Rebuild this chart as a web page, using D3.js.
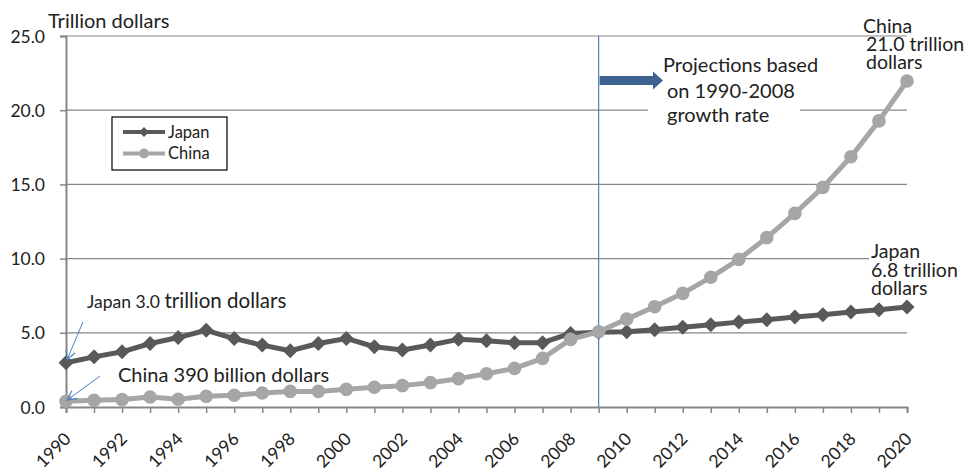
<!DOCTYPE html>
<html lang="en">
<head>
<meta charset="UTF-8">
<title>Japan and China GDP</title>
<style>
  body { margin: 0; background: #fff; }
  svg text { font-family: Lato, "Open Sans", sans-serif; fill: #222; }
</style>
</head>
<body>
<div id="chart"></div>
<script src="https://d3js.org/d3.v7.min.js"></script>
<script>
// data (trillion dollars)
var years = [1990, 1991, 1992, 1993, 1994, 1995, 1996, 1997, 1998, 1999,
             2000, 2001, 2002, 2003, 2004, 2005, 2006, 2007, 2008, 2009,
             2010, 2011, 2012, 2013, 2014, 2015, 2016, 2017, 2018, 2019, 2020];
var japan = [2.98, 3.38, 3.72, 4.28, 4.68, 5.17, 4.61, 4.17, 3.79, 4.28,
             4.62, 4.06, 3.84, 4.18, 4.56, 4.47, 4.33, 4.33, 4.96, 5.03,
             5.07, 5.20, 5.38, 5.54, 5.72, 5.88, 6.06, 6.22, 6.40, 6.56, 6.74];
var china = [0.39, 0.45, 0.50, 0.67, 0.52, 0.72, 0.79, 0.94, 1.05, 1.05,
             1.19, 1.33, 1.44, 1.64, 1.91, 2.24, 2.60, 3.28, 4.56, 5.07,
             5.92, 6.76, 7.66, 8.74, 9.95, 11.41, 13.05, 14.80, 16.86, 19.28, 21.97];
var yTicks = [0, 5, 10, 15, 20, 25];
var xLabelYears = [1990, 1992, 1994, 1996, 1998, 2000, 2002, 2004, 2006, 2008,
                   2010, 2012, 2014, 2016, 2018, 2020];
var projectionStart = 2009;

var width = 968, height = 471;
var gridColor = "#868686", japanColor = "#595959", chinaColor = "#a6a6a6", blue = "#4f81bd";

var svg = d3.select("#chart").append("svg")
    .attr("width", width)
    .attr("height", height);

var x = d3.scaleLinear().domain([1990, 2020]).range([66, 907]);
var y = d3.scaleLinear().domain([0, 25]).range([407, 36]);

var defs = svg.append("defs");
defs.append("marker")
    .attr("id", "open-arrow")
    .attr("viewBox", "0 0 10 10")
    .attr("refX", 9).attr("refY", 5)
    .attr("markerWidth", 12).attr("markerHeight", 12)
    .attr("markerUnits", "userSpaceOnUse")
    .attr("orient", "auto")
  .append("path")
    .attr("d", "M1,1 L9,5 L1,9")
    .attr("fill", "none")
    .attr("stroke", blue)
    .attr("stroke-width", 1);

// gridlines
svg.append("g").selectAll("line")
    .data(yTicks.filter(function(d) { return d > 0; }))
    .enter().append("line")
    .attr("x1", x(1990)).attr("x2", x(2020))
    .attr("y1", function(d) { return y(d); })
    .attr("y2", function(d) { return y(d); })
    .attr("stroke", gridColor).attr("stroke-width", 1.2);

// y axis
var yAxis = svg.append("g")
    .attr("transform", "translate(" + x(1990) + ",0)")
    .call(d3.axisLeft(y).tickValues(yTicks).tickSize(6).tickFormat(d3.format(".1f")));
yAxis.select(".domain").attr("stroke", gridColor).attr("stroke-width", 2);
yAxis.selectAll(".tick line").attr("stroke", gridColor).attr("stroke-width", 1.5);
yAxis.selectAll(".tick text")
    .attr("x", -21).attr("dy", "0.35em")
    .style("font-family", "Lato, sans-serif").style("font-size", "17.5px").attr("fill", "#222");

// x axis
var xAxis = svg.append("g")
    .attr("transform", "translate(0," + y(0) + ")")
    .call(d3.axisBottom(x).tickValues(years).tickSize(6).tickFormat(""));
xAxis.select(".domain").attr("stroke", gridColor).attr("stroke-width", 2);
xAxis.selectAll(".tick line").attr("stroke", gridColor).attr("stroke-width", 1.5);

svg.append("g").selectAll("text")
    .data(xLabelYears)
    .enter().append("text")
    .attr("transform", function(d) { return "translate(" + (x(d) + 6) + ",440) rotate(-45)"; })
    .attr("text-anchor", "end")
    .style("font-size", "17.5px")
    .text(function(d) { return d; });

// axis title
svg.append("text")
    .attr("x", 48).attr("y", 28)
    .style("font-size", "20px")
    .text("Trillion dollars");

// projection marker line
svg.append("line")
    .attr("x1", x(projectionStart)).attr("x2", x(projectionStart))
    .attr("y1", y(25)).attr("y2", y(0))
    .attr("stroke", blue).attr("stroke-width", 1.2);

// series
function drawSeries(values, color, symbolFn) {
  var pts = years.map(function(yr, i) { return [yr, values[i]]; });
  svg.append("path")
      .datum(pts)
      .attr("fill", "none")
      .attr("stroke", color)
      .attr("stroke-width", 5)
      .attr("stroke-linejoin", "round")
      .attr("d", d3.line().x(function(d) { return x(d[0]); }).y(function(d) { return y(d[1]); }));
  svg.append("g").selectAll("path")
      .data(pts)
      .enter().append("path")
      .attr("transform", function(d) { return "translate(" + x(d[0]) + "," + y(d[1]) + ")"; })
      .attr("d", symbolFn)
      .attr("fill", color);
}
drawSeries(japan, japanColor, function() { return "M0,-7.5L7.5,0L0,7.5L-7.5,0Z"; });
drawSeries(china, chinaColor, d3.symbol().type(d3.symbolCircle).size(Math.PI * 6.8 * 6.8));

// projection annotation
svg.append("rect")
    .attr("x", 648).attr("y", 52).attr("width", 152).attr("height", 76)
    .attr("fill", "#fff");
svg.append("path")
    .attr("d", "M" + (x(projectionStart) + 1) + ",76 L653,76 L653,71.5 L663,80.5 L653,89.5 L653,85 L" + (x(projectionStart) + 1) + ",85 Z")
    .attr("fill", "#3f6390");
var proj = svg.append("text").style("font-size", "20px");
proj.append("tspan").attr("x", 663).attr("y", 72).text("Projections based");
proj.append("tspan").attr("x", 667).attr("y", 98).text("on 1990-2008");
proj.append("tspan").attr("x", 667).attr("y", 122).text("growth rate");

// end labels
svg.append("rect")
    .attr("x", 869).attr("y", 244).attr("width", 40).attr("height", 20)
    .attr("fill", "#fff");
var chinaLbl = svg.append("text").style("font-size", "19.5px");
chinaLbl.append("tspan").attr("x", 863).attr("y", 33).text("China");
chinaLbl.append("tspan").attr("x", 866).attr("y", 51).text("21.0 trillion");
chinaLbl.append("tspan").attr("x", 866).attr("y", 68.5).text("dollars");

var japanLbl = svg.append("text").style("font-size", "19.5px");
japanLbl.append("tspan").attr("x", 871).attr("y", 258).text("Japan");
japanLbl.append("tspan").attr("x", 871).attr("y", 277).text("6.8 trillion");
japanLbl.append("tspan").attr("x", 871).attr("y", 295).text("dollars");

// start labels with arrows
var jpStart = svg.append("text").attr("x", 87).attr("y", 308);
jpStart.append("tspan").style("font-size", "17.5px").text("Japan 3.0 ");
jpStart.append("tspan").style("font-size", "20.5px").text("trillion dollars");
svg.append("line")
    .attr("x1", 83).attr("y1", 322).attr("x2", x(1990) + 1).attr("y2", y(japan[0]) - 3)
    .attr("stroke", blue).attr("stroke-width", 1)
    .attr("marker-end", "url(#open-arrow)");

svg.append("text").attr("x", 118).attr("y", 382)
    .style("font-size", "20px")
    .text("China 390 billion dollars");
svg.append("line")
    .attr("x1", 100).attr("y1", 376).attr("x2", x(1990) + 1).attr("y2", y(china[0]) - 1)
    .attr("stroke", blue).attr("stroke-width", 1)
    .attr("marker-end", "url(#open-arrow)");

// legend
var legend = svg.append("g").attr("transform", "translate(112,117)");
legend.append("rect")
    .attr("width", 115).attr("height", 53)
    .attr("fill", "#fff").attr("stroke", "#000").attr("stroke-width", 1.2);
var entries = [
  { name: "Japan", color: japanColor, shape: "M0,-5L5,0L0,5L-5,0Z" },
  { name: "China", color: chinaColor, shape: d3.symbol().type(d3.symbolCircle).size(Math.PI * 25)() }
];
entries.forEach(function(e, i) {
  var gy = 15 + i * 21.5;
  legend.append("line")
      .attr("x1", 11).attr("x2", 53).attr("y1", gy).attr("y2", gy)
      .attr("stroke", e.color).attr("stroke-width", 4);
  legend.append("path")
      .attr("transform", "translate(32," + gy + ")")
      .attr("d", e.shape).attr("fill", e.color);
  legend.append("text")
      .attr("x", 56).attr("y", gy).attr("dy", "0.35em")
      .style("font-size", "16.5px")
      .text(e.name);
});
</script>
</body>
</html>
